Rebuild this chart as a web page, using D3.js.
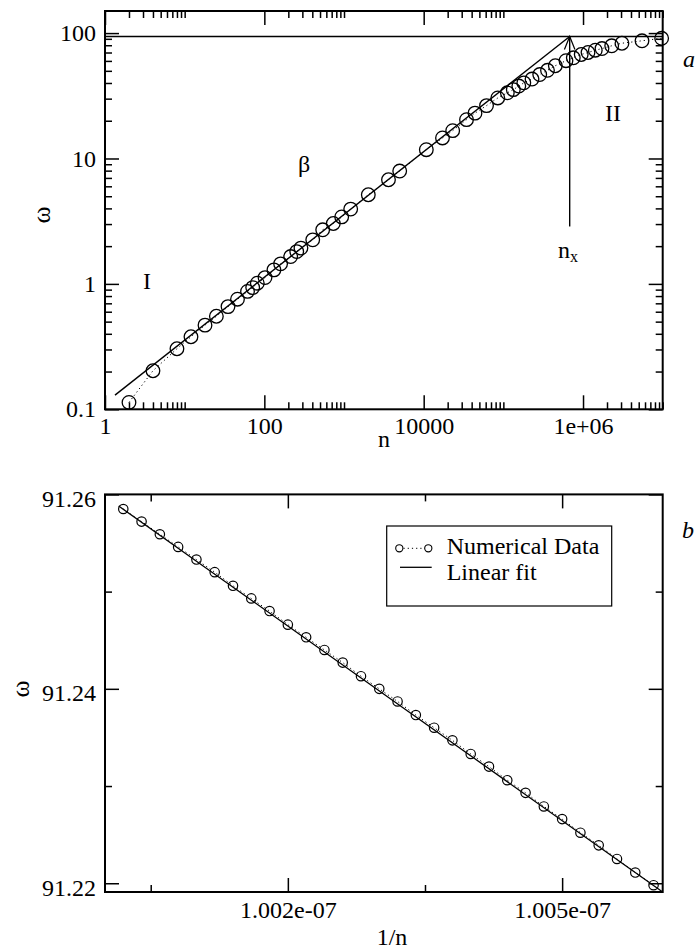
<!DOCTYPE html>
<html><head><meta charset="utf-8">
<script src="https://cdn.jsdelivr.net/npm/d3@7"></script>
<style>
body{margin:0;background:#fff}
svg{display:block}
text{font-family:"Liberation Serif","Times New Roman",serif;fill:#000}
</style>
</head><body><svg id="c" width="696" height="950"></svg>
<script>
// ---------- Panel a: omega vs n (log-log) ----------
const topN = [2, 4, 8, 12, 18, 25, 35, 46, 61.5, 71.4,
  81.6, 102, 132, 160, 214, 255, 288, 405, 540, 734,
  935, 1213, 2018, 3615, 5000, 10790, 17220, 23120, 34470, 44060,
  61500, 85150, 112200, 133300, 156300, 180700, 229000, 286000, 358000, 449000,
  611000, 755000, 949000, 1155000, 1426000, 1730000, 2290000, 3080000, 5500000, 9700000];
const topW = [0.1135, 0.203, 0.304, 0.379, 0.469, 0.552, 0.659, 0.755, 0.871, 0.934,
  1.013, 1.123, 1.294, 1.445, 1.652, 1.81, 1.93, 2.246, 2.70, 3.03,
  3.42, 3.95, 5.14, 6.77, 7.94, 11.75, 14.58, 16.67, 20.4, 23.0,
  26.4, 30.4, 33.4, 35.4, 37.8, 40.1, 43.0, 46.7, 50.5, 54.9,
  60.2, 63.5, 67.5, 70.0, 73.0, 75.3, 79.2, 83.0, 86.8, 90.9];
const topFitN = [1.335, 680000];
const topFitW = [0.1298, 94];
const omegaSat = 94;        // horizontal saturation line
const nCross = 680000;      // n_x
const arrowBaseW = 2.87;    // bottom of the n_x arrow
const topXMajor = [1, 100, 10000, 1e6];
const topXLabels = ["1", "100", "10000", "1e+06"];
const topYMajor = [0.1, 1, 10, 100];
const topYLabels = ["0.1", "1", "10", "100"];

// ---------- Panel b: omega vs 1/n (linear) ----------
const invN = [1.0002, 1.0004, 1.0006, 1.0008, 1.0010, 1.0012, 1.0014, 1.0016, 1.0018, 1.0020,
  1.0022, 1.0024, 1.0026, 1.0028, 1.0030, 1.0032, 1.0034, 1.0036, 1.0038, 1.0040,
  1.0042, 1.0044, 1.0046, 1.0048, 1.0050, 1.0052, 1.0054, 1.0056, 1.0058, 1.0060];
const botW = [91.2585, 91.2572, 91.2559, 91.2546, 91.2533, 91.2520, 91.2506, 91.2493, 91.2480, 91.2466,
  91.2453, 91.2440, 91.2427, 91.2413, 91.2400, 91.2387, 91.2373, 91.2360, 91.2347, 91.2333,
  91.2320, 91.2306, 91.2293, 91.2279, 91.2266, 91.2252, 91.2239, 91.2225, 91.2211, 91.2198];
const botFitX = [1.00015, 1.0061];
const botFitW = [91.2588, 91.2191];
const botXMajor = [1.002, 1.005];
const botXLabels = ["1.002e-07", "1.005e-07"];
const botXMinor = [1.0005, 1.0035];
const botYMajor = [91.22, 91.24, 91.26];
const botYLabels = ["91.22", "91.24", "91.26"];
const botYMinor = [91.23, 91.25];
const legendLabels = ["Numerical Data", "Linear fit"];

const svg = d3.select("#c");
const FS = 24;
const L = 105, R = 662.7;

function styleAxis(g) {
  g.select(".domain").remove();
  g.selectAll(".tick line").attr("stroke", "#000").attr("stroke-width", 1.5);
  g.selectAll("text").attr("font-size", FS).attr("font-family", '"Liberation Serif",serif').attr("fill", "#000");
}

function frame(x, y) {
  svg.append("rect").attr("x", x.range()[0]).attr("y", y.range()[1])
    .attr("width", x.range()[1] - x.range()[0]).attr("height", y.range()[0] - y.range()[1])
    .attr("fill", "none").attr("stroke", "#000").attr("stroke-width", 2);
}

function axes(x, y, xMaj, xLab, xMin, yMaj, yLab, yMin, xLabY, yLabDy) {
  const B = y.range()[0], T = y.range()[1];
  svg.append("g").attr("transform", `translate(0,${B})`)
    .call(d3.axisBottom(x).tickValues(xMaj).tickFormat((d, i) => xLab[i]).tickSize(-14).tickSizeOuter(0).tickPadding(0))
    .call(styleAxis).call(g => g.selectAll("text").attr("dy", null).attr("y", xLabY));
  svg.append("g").attr("transform", `translate(0,${B})`)
    .call(d3.axisBottom(x).tickValues(xMin).tickFormat("").tickSize(-7).tickSizeOuter(0)).call(styleAxis);
  svg.append("g").attr("transform", `translate(0,${T})`)
    .call(d3.axisTop(x).tickValues(xMaj).tickFormat("").tickSize(-14).tickSizeOuter(0)).call(styleAxis);
  svg.append("g").attr("transform", `translate(0,${T})`)
    .call(d3.axisTop(x).tickValues(xMin).tickFormat("").tickSize(-7).tickSizeOuter(0)).call(styleAxis);
  svg.append("g").attr("transform", `translate(${L},0)`)
    .call(d3.axisLeft(y).tickValues(yMaj).tickFormat((d, i) => yLab[i]).tickSize(-14).tickSizeOuter(0).tickPadding(9))
    .call(styleAxis).call(g => g.selectAll("text").attr("dy", yLabDy));
  svg.append("g").attr("transform", `translate(${L},0)`)
    .call(d3.axisLeft(y).tickValues(yMin).tickFormat("").tickSize(-7).tickSizeOuter(0)).call(styleAxis);
  svg.append("g").attr("transform", `translate(${R},0)`)
    .call(d3.axisRight(y).tickValues(yMaj).tickFormat("").tickSize(-14).tickSizeOuter(0)).call(styleAxis);
  svg.append("g").attr("transform", `translate(${R},0)`)
    .call(d3.axisRight(y).tickValues(yMin).tickFormat("").tickSize(-7).tickSizeOuter(0)).call(styleAxis);
  frame(x, y);
}

// ================= Panel a =================
const xT = d3.scaleLog().domain([1, 1e7]).range([L, R]);
const yT = d3.scaleLog().domain([0.1, 150]).range([409.3, 11]);

const topXMinor = [];
topXMajor.forEach(m => { for (let k = 2; k <= 10; k++) topXMinor.push(m * k); });
const topYMinor = [];
[0.1, 1, 10, 100].forEach(m => { for (let k = 2; k <= 9; k++) if (m * k <= 150) topYMinor.push(m * k); });

const topData = topN.map((n, i) => ({ n, w: topW[i] }));
const gTop = svg.append("g");
gTop.append("path").datum(topData)
  .attr("d", d3.line().x(d => xT(d.n)).y(d => yT(d.w)))
  .attr("fill", "none").attr("stroke", "#000").attr("stroke-width", 1).attr("stroke-dasharray", "1.2,3");
gTop.append("path").datum(topFitN.map((n, i) => ({ n, w: topFitW[i] })))
  .attr("d", d3.line().x(d => xT(d.n)).y(d => yT(d.w)))
  .attr("fill", "none").attr("stroke", "#000").attr("stroke-width", 1.4);
gTop.append("line").attr("x1", xT(1)).attr("x2", xT(1e7)).attr("y1", yT(omegaSat)).attr("y2", yT(omegaSat))
  .attr("stroke", "#000").attr("stroke-width", 1.4);
const ax = xT(nCross), ay = yT(omegaSat);
gTop.append("line").attr("x1", ax).attr("x2", ax).attr("y1", yT(arrowBaseW)).attr("y2", ay)
  .attr("stroke", "#000").attr("stroke-width", 1.4);
const aLen = 14, aAng = 22 * Math.PI / 180;
gTop.append("path")
  .attr("d", `M${ax - aLen * Math.sin(aAng)},${ay + aLen * Math.cos(aAng)}L${ax},${ay}L${ax + aLen * Math.sin(aAng)},${ay + aLen * Math.cos(aAng)}`)
  .attr("fill", "none").attr("stroke", "#000").attr("stroke-width", 1.2);
gTop.selectAll("circle").data(topData).join("circle")
  .attr("cx", d => xT(d.n)).attr("cy", d => yT(d.w)).attr("r", 6.8)
  .attr("fill", "none").attr("stroke", "#000").attr("stroke-width", 1.3);

axes(xT, yT, topXMajor, topXLabels, topXMinor, topYMajor, topYLabels, topYMinor, 25, "0.32em");

svg.append("text").attr("x", 147).attr("y", 289).attr("text-anchor", "middle").attr("font-size", FS).text("I");
svg.append("text").attr("x", 304).attr("y", 172).attr("text-anchor", "middle").attr("font-size", FS).text("β");
svg.append("text").attr("x", 613).attr("y", 120.7).attr("text-anchor", "middle").attr("font-size", FS).text("II");
const nx = svg.append("text").attr("x", 558).attr("y", 258.3).attr("font-size", FS);
nx.append("tspan").text("n");
nx.append("tspan").attr("font-size", 16).attr("dy", 4).text("x");
svg.append("text").attr("x", 683).attr("y", 66.7).attr("font-size", FS).attr("font-style", "italic").text("a");
svg.append("text").attr("x", 41.7).attr("y", 215).attr("font-size", FS + 2).attr("text-anchor", "middle")
  .attr("dominant-baseline", "central").attr("transform", "rotate(-90,41.7,215)").text("ω");
svg.append("text").attr("x", 384).attr("y", 447).attr("font-size", FS).attr("text-anchor", "middle").text("n");

// ================= Panel b =================
const xB = d3.scaleLinear().domain([1.0000, 1.0061]).range([L, R]);
const yB = d3.scaleLinear().domain([91.2191, 91.26]).range([892, 494.4]);
const botData = invN.map((x, i) => ({ x, w: botW[i] }));
const gBot = svg.append("g");
gBot.append("path").datum(botData)
  .attr("d", d3.line().x(d => xB(d.x)).y(d => yB(d.w)))
  .attr("fill", "none").attr("stroke", "#000").attr("stroke-width", 1).attr("stroke-dasharray", "1.2,3");
gBot.append("path").datum(botFitX.map((x, i) => ({ x, w: botFitW[i] })))
  .attr("d", d3.line().x(d => xB(d.x)).y(d => yB(d.w)))
  .attr("fill", "none").attr("stroke", "#000").attr("stroke-width", 1.3);
gBot.selectAll("circle").data(botData).join("circle")
  .attr("cx", d => xB(d.x)).attr("cy", d => yB(d.w)).attr("r", 4.7)
  .attr("fill", "none").attr("stroke", "#000").attr("stroke-width", 1.2);

axes(xB, yB, botXMajor, botXLabels, botXMinor, botYMajor, botYLabels, botYMinor, 26, "0.5em");

svg.append("text").attr("x", 682).attr("y", 538).attr("font-size", FS).attr("font-style", "italic").text("b");
svg.append("text").attr("x", 20.3).attr("y", 689).attr("font-size", FS + 2).attr("text-anchor", "middle")
  .attr("dominant-baseline", "central").attr("transform", "rotate(-90,20.3,689)").text("ω");
svg.append("text").attr("x", 392).attr("y", 945).attr("font-size", FS).attr("text-anchor", "middle").text("1/n");

const lg = svg.append("g");
lg.append("rect").attr("x", 386.7).attr("y", 526).attr("width", 225).attr("height", 80)
  .attr("fill", "#fff").attr("stroke", "#000").attr("stroke-width", 1.2);
lg.append("line").attr("x1", 399.3).attr("x2", 428.3).attr("y1", 548.3).attr("y2", 548.3)
  .attr("stroke", "#000").attr("stroke-width", 1).attr("stroke-dasharray", "1.2,3");
[399.3, 428.3].forEach(cx => lg.append("circle").attr("cx", cx).attr("cy", 548.3).attr("r", 3.6)
  .attr("fill", "#fff").attr("stroke", "#000").attr("stroke-width", 1.1));
lg.append("text").attr("x", 446.7).attr("y", 553.5).attr("font-size", FS).text(legendLabels[0]);
lg.append("line").attr("x1", 400).attr("x2", 431.7).attr("y1", 567.3).attr("y2", 567.3)
  .attr("stroke", "#000").attr("stroke-width", 1.3);
lg.append("text").attr("x", 446.7).attr("y", 580).attr("font-size", FS).text(legendLabels[1]);
</script>
</body></html>
